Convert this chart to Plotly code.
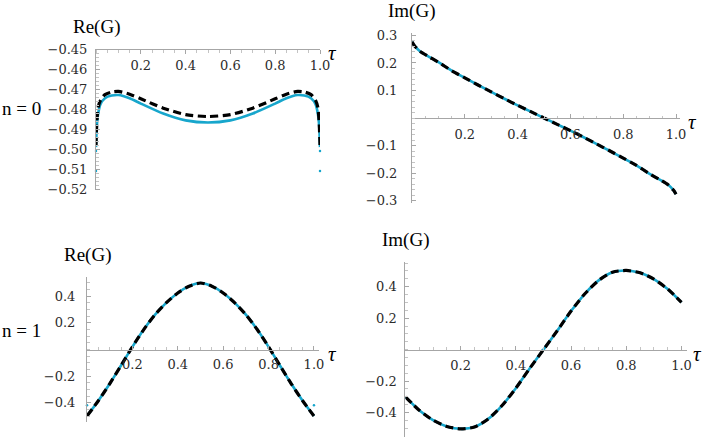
import plotly.graph_objects as go

# ---------------- data ----------------
# n = 0, Re(G)
tau_re0 = [0, 0.004, 0.01, 0.02, 0.04, 0.07, 0.1, 0.15, 0.2, 0.3, 0.4, 0.5,
           0.6, 0.7, 0.8, 0.85, 0.9, 0.93, 0.96, 0.98, 0.99, 0.996, 1.0]
re0_exact = [-0.499, -0.488, -0.482, -0.4775, -0.4745, -0.4732, -0.4729, -0.4745,
             -0.4772, -0.4822, -0.4856, -0.4867, -0.4856, -0.4822, -0.4772, -0.4745,
             -0.4729, -0.4732, -0.4745, -0.4775, -0.482, -0.488, -0.499]
re0_approx = [-0.498, -0.486, -0.479, -0.4755, -0.4727, -0.4714, -0.4711, -0.4725,
              -0.4748, -0.4795, -0.4827, -0.4837, -0.4827, -0.4795, -0.4748, -0.4725,
              -0.4711, -0.4714, -0.4727, -0.4755, -0.479, -0.486, -0.498]
tau_re0_dots = [0, 0, 1, 1]
re0_dots = [-0.501, -0.511, -0.501, -0.511]

# n = 0, Im(G)
tau_im0 = [0, 0.01, 0.03, 0.06, 0.1, 0.15, 0.2, 0.25, 0.3, 0.35, 0.4, 0.45, 0.5,
           0.55, 0.6, 0.65, 0.7, 0.75, 0.8, 0.85, 0.9, 0.94, 0.97, 0.99, 1.0]
im0_exact = [0.277, 0.262, 0.243, 0.225, 0.203, 0.172, 0.146, 0.12, 0.095, 0.07, 0.046,
             0.023, 0.0, -0.023, -0.046, -0.07, -0.095, -0.12, -0.146, -0.172, -0.203,
             -0.225, -0.243, -0.262, -0.277]
im0_approx = list(im0_exact)

# n = 1, Re(G)
tau_n1 = [0, 0.05, 0.1, 0.15, 0.2, 0.25, 0.3, 0.35, 0.4, 0.45, 0.5,
          0.55, 0.6, 0.65, 0.7, 0.75, 0.8, 0.85, 0.9, 0.95, 1.0]
re1_exact = [-0.5, -0.385, -0.258, -0.12, 0.02, 0.15, 0.262, 0.352, 0.425, 0.476, 0.5,
             0.476, 0.425, 0.352, 0.262, 0.15, 0.02, -0.12, -0.258, -0.385, -0.5]
re1_approx = list(re1_exact)
tau_re1_dots = [0, 1]
re1_dots = [-0.42, -0.42]

# n = 1, Im(G)
im1_exact = [-0.3, -0.385, -0.448, -0.488, -0.503, -0.492, -0.44, -0.355, -0.245, -0.12, 0.0,
             0.12, 0.245, 0.355, 0.44, 0.492, 0.503, 0.488, 0.448, 0.385, 0.3]
im1_approx = list(im1_exact)

x_ticks = [0.2, 0.4, 0.6, 0.8, 1.0]
y_ticks = [
    [-0.52, -0.51, -0.50, -0.49, -0.48, -0.47, -0.46, -0.45],
    [-0.3, -0.2, -0.1, 0.1, 0.2, 0.3],
    [-0.4, -0.2, 0.2, 0.4],
    [-0.4, -0.2, 0.2, 0.4],
]
titles = ["Re(G)", "Im(G)", "Re(G)", "Im(G)"]
row_labels = ["n = 0", "n = 1"]

# ---------------- styling / layout ----------------
W, H = 714, 440
CYAN = "#17a6cc"
AXIS = "#a6a6a6"
TXT = "#2b2b2b"
TICKFONT = "DejaVu Serif"
LABFONT = "Liberation Serif"

# plotting boxes in pixels: left, right, top, bottom
boxes = [(96, 320, 49.3, 190), (412, 680, 33, 203), (87, 318.5, 277, 422), (405.4, 687, 261.5, 437)]
x_ranges = [[0, 1.0], [0, 1.015], [0, 1.02], [0, 1.02]]
y_ranges = [[-0.5205, -0.45], [-0.309, 0.309], [-0.545, 0.545], [-0.555, 0.56]]
y_fmt = [".2f", ".1f", ".1f", ".1f"]
y_minor = [0.002, 0.02, 0.05, 0.05]
# (y label gap, x label gap)
standoff = [[5, 0], [11, 4], [8, 3], [5, 4]]
tau_shift = [12, 12, 14, 10]

fig = go.Figure()

series = [
    (tau_re0, re0_exact, re0_approx),
    (tau_im0, im0_exact, im0_approx),
    (tau_n1, re1_exact, re1_approx),
    (tau_n1, im1_exact, im1_approx),
]
for k, (t, ex, ap) in enumerate(series):
    xa, ya = f"x{k + 1}", f"y{k + 1}"
    fig.add_trace(go.Scatter(x=t, y=ex, xaxis=xa, yaxis=ya, mode="lines", cliponaxis=False,
                             line=dict(color=CYAN, width=2.6, shape="spline", smoothing=0.7),
                             hoverinfo="skip", showlegend=False))
    fig.add_trace(go.Scatter(x=t, y=ap, xaxis=xa, yaxis=ya, mode="lines", cliponaxis=False,
                             line=dict(color="black", width=3.2, dash="8px,4.5px",
                                       shape="spline", smoothing=0.7),
                             hoverinfo="skip", showlegend=False))

fig.add_trace(go.Scatter(x=tau_re0_dots, y=re0_dots, xaxis="x1", yaxis="y1", mode="markers",
                         cliponaxis=False, marker=dict(color=CYAN, size=2.5), showlegend=False))
fig.add_trace(go.Scatter(x=tau_re1_dots, y=re1_dots, xaxis="x3", yaxis="y3", mode="markers",
                         cliponaxis=False, marker=dict(color=CYAN, size=2.5), showlegend=False))

layout = dict(width=W, height=H, margin=dict(l=0, r=0, t=0, b=0, autoexpand=False),
              plot_bgcolor="white", paper_bgcolor="white", showlegend=False,
              font=dict(family=TICKFONT, color=TXT, size=13))
annotations = []
for k in range(4):
    l, r, t, b = boxes[k]
    xdom = [l / W, r / W]
    ydom = [1 - b / H, 1 - t / H]
    y0, y1 = y_ranges[k]
    y_at = min(max(0, y0), y1)
    pos = ydom[0] + (y_at - y0) / (y1 - y0) * (ydom[1] - ydom[0])
    sfx = "" if k == 0 else str(k + 1)
    layout["xaxis" + sfx] = dict(
        domain=xdom, range=x_ranges[k], anchor="free", position=pos, side="bottom",
        automargin=False,
        showline=True, linecolor=AXIS, linewidth=1, showgrid=False, zeroline=False,
        tickmode="array", tickvals=x_ticks, tickformat=".1f",
        ticks="outside" if k == 0 else "inside", ticklen=4, tickcolor=AXIS,
        ticklabelstandoff=standoff[k][1],
        tickfont=dict(family=TICKFONT, size=13, color=TXT),
        minor=dict(tickmode="linear", tick0=0, dtick=0.05, ticklen=2.5, tickcolor="#c4c4c4",
                   ticks="outside" if k == 0 else "inside", showgrid=False),
    )
    layout["yaxis" + sfx] = dict(
        domain=ydom, range=y_ranges[k], anchor="x" + ("" if k == 0 else str(k + 1)), side="left",
        automargin=False,
        showline=True, linecolor=AXIS, linewidth=1, showgrid=False, zeroline=False,
        tickmode="array", tickvals=y_ticks[k], tickformat=y_fmt[k],
        ticks="inside", ticklen=4, tickcolor=AXIS, ticklabelstandoff=standoff[k][0],
        tickfont=dict(family=TICKFONT, size=13, color=TXT),
        minor=dict(tickmode="linear", tick0=0, dtick=y_minor[k], ticklen=2.5,
                   tickcolor="#c4c4c4", ticks="inside", showgrid=False),
    )
    # axis title above the y axis and tau at the end of the x axis
    annotations.append(dict(text=titles[k], xref="paper", yref="paper", x=l / W, y=ydom[1],
                            yshift=9, xanchor="center", yanchor="bottom", showarrow=False,
                            font=dict(family=LABFONT, size=19, color="black")))
    annotations.append(dict(text="<i>τ</i>", xref="paper", yref="paper", x=r / W, y=pos,
                            xshift=tau_shift[k], yshift=-4, xanchor="center", yanchor="middle",
                            showarrow=False, font=dict(family=LABFONT, size=21, color="black")))

annotations.append(dict(text=row_labels[0], xref="paper", yref="paper", x=0.0, y=1 - 108 / H,
                        xanchor="left", yanchor="middle", showarrow=False,
                        font=dict(family=LABFONT, size=19, color="black")))
annotations.append(dict(text=row_labels[1], xref="paper", yref="paper", x=0.0, y=1 - 330 / H,
                        xanchor="left", yanchor="middle", showarrow=False,
                        font=dict(family=LABFONT, size=19, color="black")))
layout["annotations"] = annotations
fig.update_layout(**layout)

# the page's default body margin would shift the chart; remove it
fig.write_html("out.html", config={"displayModeBar": False},
               post_script="document.body.style.margin = '0px';")
